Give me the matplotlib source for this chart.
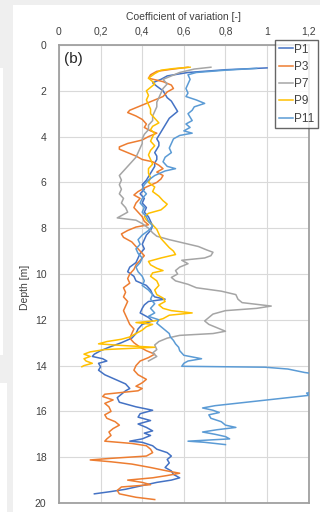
import matplotlib
matplotlib.use("Agg")
import matplotlib.pyplot as plt
from matplotlib.patches import Rectangle

plt.rcParams['font.family'] = ['Liberation Sans', 'DejaVu Sans']

series_names = ["P1", "P3", "P7", "P9", "P11"]
series_colors = ["#4472C4", "#ED7D31", "#A5A5A5", "#FFC000", "#5B9BD5"]

p1_depth = [1.00, 1.08, 1.2, 1.35, 1.5, 1.65, 1.8, 2.0, 2.15, 2.3, 2.45, 2.6, 2.75, 2.9, 3.05, 3.2, 3.35, 3.5, 3.65, 3.8, 3.95, 4.1, 4.25, 4.4, 4.55, 4.7, 4.85, 5.0, 5.15, 5.3, 5.45, 5.6, 5.75, 5.9,
            6.1, 6.3, 6.5, 6.7, 6.9, 7.1, 7.3, 7.5, 7.7, 7.9, 8.1, 8.3, 8.5, 8.7, 8.9, 9.1, 9.3, 9.5, 9.7, 9.9, 10.1, 10.3, 10.5, 10.7, 10.9, 11.0, 11.1, 11.2, 11.35, 11.5, 11.7, 11.9, 12.05,
            12.2, 12.4, 12.6, 12.8, 13.0, 13.2, 13.35, 13.5, 13.6, 13.7, 13.8, 13.9, 14.05, 14.2, 14.4, 14.6, 14.8, 15.0, 15.1, 15.25, 15.4, 15.6, 15.7, 15.8, 15.95, 16.1, 16.25, 16.4, 16.55,
            16.7, 16.85, 16.95, 17.05, 17.2, 17.3, 17.35, 17.5, 17.65, 17.8, 17.95, 18.1, 18.25, 18.45, 18.6, 18.75, 18.9, 19.0, 19.1, 19.2, 19.3, 19.4, 19.5, 19.6]
p1_cv = [1.00, 0.80, 0.62, 0.52, 0.49, 0.45, 0.47, 0.50, 0.51, 0.52, 0.54, 0.55, 0.56, 0.57, 0.55, 0.53, 0.52, 0.51, 0.50, 0.49, 0.48, 0.47, 0.48, 0.48, 0.47, 0.46, 0.47, 0.47, 0.46, 0.46, 0.45, 0.44, 0.43, 0.42,
         0.40, 0.41, 0.39, 0.41, 0.40, 0.42, 0.41, 0.43, 0.44, 0.45, 0.44, 0.42, 0.41, 0.40, 0.41, 0.39, 0.38, 0.37, 0.34, 0.33, 0.36, 0.37, 0.42, 0.44, 0.45, 0.46, 0.51, 0.43, 0.41, 0.40, 0.39, 0.43, 0.45,
         0.40, 0.38, 0.37, 0.35, 0.30, 0.24, 0.20, 0.17, 0.16, 0.21, 0.23, 0.19, 0.20, 0.19, 0.22, 0.27, 0.32, 0.34, 0.32, 0.30, 0.28, 0.29, 0.33, 0.37, 0.45, 0.39, 0.38, 0.44, 0.38,
         0.42, 0.45, 0.41, 0.44, 0.40, 0.34, 0.40, 0.45, 0.47, 0.52, 0.54, 0.52, 0.53, 0.51, 0.54, 0.55, 0.58, 0.54, 0.47, 0.42, 0.37, 0.32, 0.25, 0.17]

p3_depth = [0.97, 1.05, 1.15, 1.3, 1.45, 1.6, 1.75, 1.9, 2.05, 2.25, 2.4, 2.55, 2.7, 2.85, 2.95, 3.1, 3.25, 3.45, 3.6, 3.75, 3.85, 4.0, 4.15, 4.3, 4.45, 4.55, 4.7, 4.85, 5.0, 5.1, 5.25, 5.4, 5.55, 5.7, 5.85,
            6.0, 6.2, 6.4, 6.55, 6.7, 6.9, 7.1, 7.3, 7.5, 7.7, 7.85, 7.95, 8.1, 8.25, 8.4, 8.6, 8.8, 9.0, 9.2, 9.4, 9.6, 9.8, 10.0, 10.2, 10.4, 10.6, 10.8, 11.0, 11.2, 11.4, 11.6, 11.8, 12.0,
            12.2, 12.4, 12.6, 12.8, 13.0, 13.2, 13.35, 13.5, 13.65, 13.8, 14.0, 14.2, 14.4, 14.6, 14.75, 14.9, 15.0, 15.1, 15.25, 15.35, 15.5, 15.65, 15.8, 16.0, 16.15, 16.3, 16.45, 16.6,
            16.75, 16.9, 17.05, 17.2, 17.3, 17.4, 17.5, 17.65, 17.8, 17.95, 18.05, 18.12, 18.2, 18.3, 18.45, 18.6, 18.7, 18.8, 18.9, 19.0, 19.1, 19.2, 19.3, 19.45, 19.6, 19.75, 19.85]
p3_cv = [0.62, 0.55, 0.47, 0.44, 0.43, 0.50, 0.54, 0.55, 0.52, 0.50, 0.46, 0.42, 0.38, 0.34, 0.33, 0.37, 0.40, 0.42, 0.41, 0.44, 0.47, 0.43, 0.40, 0.33, 0.29, 0.29, 0.33, 0.37, 0.40, 0.45, 0.48, 0.50, 0.47, 0.50, 0.49,
         0.47, 0.42, 0.38, 0.36, 0.39, 0.37, 0.36, 0.38, 0.40, 0.41, 0.43, 0.37, 0.33, 0.30, 0.31, 0.35, 0.37, 0.39, 0.41, 0.39, 0.37, 0.36, 0.34, 0.33, 0.34, 0.31, 0.32, 0.31, 0.33, 0.32, 0.31, 0.32, 0.33,
         0.34, 0.36, 0.35, 0.34, 0.36, 0.39, 0.42, 0.46, 0.43, 0.39, 0.37, 0.36, 0.38, 0.42, 0.40, 0.37, 0.40, 0.38, 0.22, 0.21, 0.26, 0.22, 0.24, 0.25, 0.22, 0.23, 0.27, 0.29,
         0.26, 0.24, 0.25, 0.23, 0.22, 0.35, 0.42, 0.44, 0.45, 0.42, 0.25, 0.15, 0.25, 0.35, 0.44, 0.52, 0.58, 0.52, 0.45, 0.33, 0.40, 0.44, 0.30, 0.28, 0.29, 0.37, 0.46]

p7_depth = [0.97, 1.05, 1.2, 1.35, 1.5, 1.7, 1.9, 2.1, 2.3, 2.5, 2.7, 2.9, 3.1, 3.3, 3.5, 3.7, 3.9, 4.1, 4.3, 4.5, 4.7, 4.9, 5.1, 5.3, 5.5, 5.7, 5.9, 6.1, 6.3, 6.5, 6.7, 6.9, 7.1, 7.3, 7.45, 7.55,
            7.65, 7.8, 8.0, 8.2, 8.35, 8.5, 8.65, 8.8, 8.95, 9.05, 9.2, 9.3, 9.4, 9.55, 9.7, 9.85, 10.0, 10.15, 10.3, 10.45, 10.6, 10.75, 10.9, 11.1, 11.25, 11.4, 11.5, 11.6, 11.75, 11.9,
            12.05, 12.2, 12.35, 12.5, 12.6, 12.68, 12.8, 12.95, 13.1, 13.3, 13.45, 13.6, 13.8]
p7_cv = [0.73, 0.65, 0.58, 0.54, 0.50, 0.52, 0.50, 0.49, 0.48, 0.47, 0.47, 0.46, 0.45, 0.45, 0.43, 0.43, 0.41, 0.40, 0.40, 0.39, 0.38, 0.37, 0.35, 0.33, 0.31, 0.29, 0.30, 0.29, 0.30, 0.29, 0.31, 0.30, 0.32, 0.33, 0.30, 0.28,
         0.37, 0.40, 0.43, 0.45, 0.47, 0.53, 0.60, 0.67, 0.71, 0.74, 0.73, 0.70, 0.59, 0.62, 0.58, 0.56, 0.57, 0.54, 0.56, 0.62, 0.66, 0.78, 0.85, 0.86, 0.88, 1.02, 0.95, 0.80, 0.74, 0.72,
         0.70, 0.72, 0.76, 0.80, 0.74, 0.58, 0.52, 0.48, 0.46, 0.47, 0.45, 0.47, 0.43]

p9_depth = [0.97, 1.03, 1.1, 1.25, 1.45, 1.6, 1.7, 1.85, 2.0, 2.2, 2.4, 2.6, 2.8, 3.0, 3.2, 3.4, 3.55, 3.7, 3.85, 4.0, 4.2, 4.4, 4.6, 4.8, 5.0, 5.2, 5.4, 5.6, 5.8, 6.0, 6.2, 6.4, 6.6, 6.8, 6.95, 7.05,
            7.2, 7.35, 7.5, 7.65, 7.85, 8.05, 8.25, 8.45, 8.65, 8.85, 9.0, 9.15, 9.3, 9.45, 9.6, 9.75, 9.85, 9.95, 10.1, 10.3, 10.5, 10.7, 10.9, 11.05, 11.2, 11.35, 11.5, 11.6, 11.7, 11.8,
            11.95, 12.05, 12.12, 12.2, 12.3, 12.45, 12.6, 12.75, 12.85, 12.95, 13.05, 13.12, 13.2, 13.3, 13.4, 13.5, 13.6, 13.7, 13.8, 13.9, 14.0, 14.05]
p9_cv = [0.63, 0.55, 0.49, 0.46, 0.43, 0.45, 0.46, 0.44, 0.42, 0.43, 0.42, 0.43, 0.44, 0.44, 0.46, 0.48, 0.45, 0.44, 0.46, 0.45, 0.44, 0.46, 0.44, 0.43, 0.44, 0.45, 0.43, 0.43, 0.44, 0.43, 0.46, 0.45, 0.48, 0.50, 0.52, 0.51,
         0.49, 0.43, 0.41, 0.42, 0.45, 0.47, 0.48, 0.49, 0.51, 0.53, 0.55, 0.56, 0.49, 0.43, 0.44, 0.47, 0.50, 0.45, 0.44, 0.47, 0.48, 0.46, 0.47, 0.50, 0.51, 0.48, 0.50, 0.54, 0.64, 0.53,
         0.50, 0.46, 0.37, 0.45, 0.42, 0.40, 0.37, 0.34, 0.30, 0.23, 0.19, 0.30, 0.46, 0.22, 0.15, 0.12, 0.15, 0.12, 0.13, 0.16, 0.12, 0.11]

p11_depth = [1.02, 1.1, 1.2, 1.3, 1.5, 1.7, 1.9, 2.1, 2.25, 2.4, 2.55, 2.7, 2.85, 3.0, 3.15, 3.3, 3.45, 3.6, 3.75, 3.85, 3.95, 4.1, 4.3, 4.5, 4.7, 4.9, 5.1, 5.3, 5.4, 5.5, 5.7, 5.9,
             6.1, 6.3, 6.5, 6.7, 6.9, 7.1, 7.3, 7.5, 7.7, 7.9, 8.1, 8.3, 8.5, 8.7, 8.9, 9.1, 9.3, 9.5, 9.7, 9.9, 10.1, 10.3, 10.5, 10.7, 10.9, 11.1, 11.3, 11.5, 11.7, 11.85, 12.0, 12.15,
             12.3, 12.45, 12.6, 12.75, 12.9, 13.05, 13.2, 13.35, 13.45, 13.55, 13.7, 13.8, 13.9, 14.03, 14.07, 14.15, 14.3, 14.45, 14.8, 15.1, 15.2, 15.3, 15.45, 15.6, 15.75, 15.85,
             15.95, 16.05, 16.15, 16.3, 16.45, 16.6, 16.7, 16.8, 16.9, 17.0, 17.1, 17.2, 17.3, 17.35, 17.45]
p11_cv = [0.95, 0.80, 0.66, 0.62, 0.63, 0.62, 0.61, 0.62, 0.61, 0.66, 0.70, 0.65, 0.64, 0.62, 0.63, 0.64, 0.61, 0.63, 0.60, 0.64, 0.58, 0.55, 0.54, 0.53, 0.54, 0.51, 0.50, 0.52, 0.56, 0.51, 0.46, 0.43,
          0.41, 0.40, 0.42, 0.40, 0.39, 0.41, 0.40, 0.42, 0.43, 0.45, 0.43, 0.40, 0.38, 0.39, 0.37, 0.38, 0.40, 0.39, 0.37, 0.38, 0.40, 0.41, 0.40, 0.43, 0.45, 0.44, 0.46, 0.44, 0.46, 0.43, 0.48, 0.47,
          0.49, 0.51, 0.53, 0.535, 0.55, 0.56, 0.575, 0.58, 0.59, 0.60, 0.685, 0.62, 0.60, 0.59, 0.99, 1.10, 1.18, 1.30, 1.35, 1.28, 1.19, 1.20, 1.05, 0.90, 0.75, 0.69,
          0.74, 0.77, 0.72, 0.73, 0.78, 0.80, 0.85, 0.76, 0.69, 0.75, 0.80, 0.82, 0.62, 0.70, 0.80]

x_ticks = [0, 0.2, 0.4, 0.6, 0.8, 1.0, 1.2]
x_tick_labels = ["0", "0,2", "0,4", "0,6", "0,8", "1", "1,2"]
y_ticks = [0, 2, 4, 6, 8, 10, 12, 14, 16, 18, 20]

W, H = 320, 512
fig = plt.figure(figsize=(W / 100, H / 100), dpi=100)
fig.patch.set_facecolor("#efefef")
for (x0, y0, w, h) in [(13, 0, W - 13, H - 5), (0, H - 355, 3, 287), (0, 0, 7, 129)]:
    fig.patches.append(Rectangle((x0 / W, y0 / H), w / W, h / H, transform=fig.transFigure,
                                 facecolor="white", edgecolor="none", zorder=-5))

ax = fig.add_axes([59 / W, 1 - 503 / H, (308.7 - 59) / W, (503 - 45) / H])
ax.set_zorder(3)
ax.set_facecolor("white")

all_depths = [p1_depth, p3_depth, p7_depth, p9_depth, p11_depth]
all_cvs = [p1_cv, p3_cv, p7_cv, p9_cv, p11_cv]
lines = []
for name, col, d, v in zip(series_names, series_colors, all_depths, all_cvs):
    ln, = ax.plot(v, d, color=col, lw=1.1, label=name, zorder=3)
    lines.append(ln)

ax.set_xlim(0, 1.2)
ax.set_ylim(20, 0)
ax.xaxis.set_ticks_position("top")
ax.xaxis.set_label_position("top")
ax.set_xticks(x_ticks)
ax.set_xticklabels(x_tick_labels)
ax.set_yticks(y_ticks)
ax.tick_params(axis="both", length=0, labelsize=7.5, labelcolor="#404040", pad=9)
ax.tick_params(axis="x", pad=6)
ax.grid(True, color="#d9d9d9", lw=0.8, zorder=0)
for s in ax.spines.values():
    s.set_color("#a0a0a0")
    s.set_linewidth(1.3)

ax.set_xlabel("Coefficient of variation [-]", fontsize=7.5, color="#404040", labelpad=5)
ax.set_ylabel("Depth [m]", fontsize=7.5, color="#404040")
ax.yaxis.set_label_coords(-0.115, 0.47)

ax.text(0.02, 0.985, "(b)", transform=ax.transAxes, fontsize=11, color="#262626",
        va="top", ha="left")

leg = fig.legend(handles=lines, labels=series_names, loc="upper left",
                 bbox_to_anchor=(275 / W, 1 - 40 / H), bbox_transform=fig.transFigure,
                 fontsize=8.5, frameon=True, fancybox=False, handlelength=1.2,
                 handletextpad=0.15, labelspacing=0.45, borderpad=0.3, borderaxespad=0)
leg.set_zorder(10)
leg.get_frame().set_edgecolor("#404040")
leg.get_frame().set_linewidth(1.0)
for t in leg.get_texts():
    t.set_color("#404040")

fig.savefig("out.png", dpi=100, facecolor=fig.get_facecolor())
